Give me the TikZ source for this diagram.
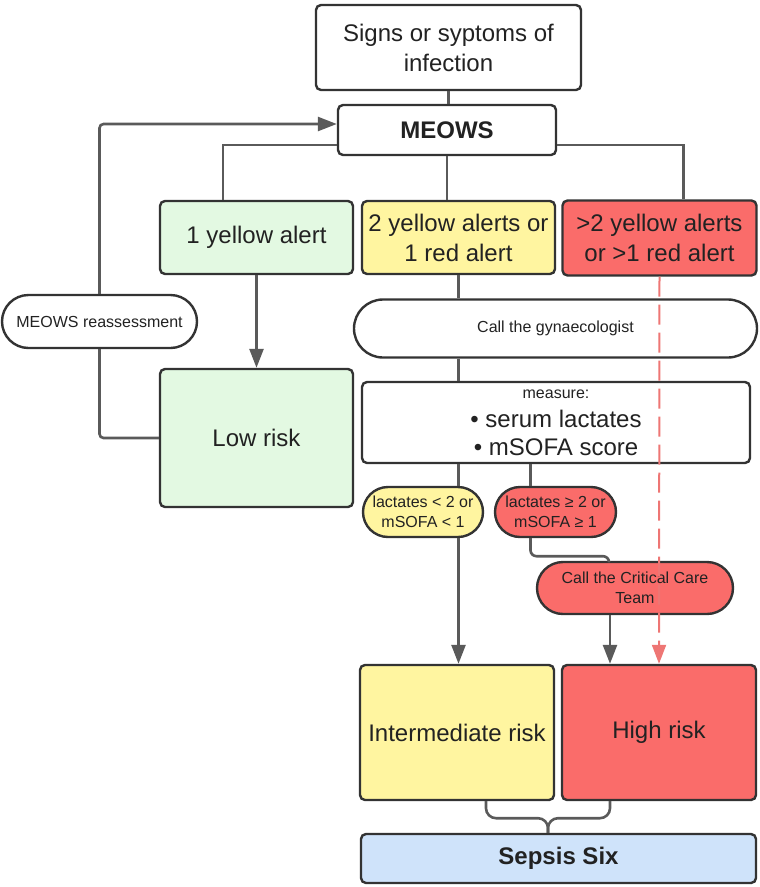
\documentclass[tikz,border=0pt]{standalone}
\usepackage{fontspec}
\setmainfont{Liberation Sans}
\usepackage{tikz}
\usetikzlibrary{shapes.misc, arrows.meta, positioning, calc}
\definecolor{lowgreen}{RGB}{227, 249, 226}
\definecolor{midyellow}{RGB}{255, 245, 160}
\definecolor{highred}{RGB}{250, 108, 106}
\definecolor{sepsisblue}{RGB}{207, 227, 250}
\definecolor{boxgray}{RGB}{51, 51, 51}
\definecolor{linegray}{RGB}{90, 90, 90}
\definecolor{txtgray}{RGB}{34, 34, 34}
\definecolor{dashred}{RGB}{238, 118, 116}

\begin{document}
\begin{tikzpicture}[
				x=1pt, y=-1pt,
				stepbox/.style={rectangle, rounded corners=5pt, draw=boxgray, fill=white, line width=2.4pt, align=center, inner sep=0pt, text=txtgray, font=\fontsize{24}{30}\selectfont},
				pillbox/.style={rounded rectangle, draw=boxgray, fill=white, line width=2.4pt, align=center, inner sep=0pt, text=txtgray, font=\fontsize{16}{20}\selectfont},
				conn/.style={draw=linegray, line width=2.6pt},
				arr/.style={conn, -{Triangle[length=19pt, width=14pt]}}
				]
				\useasboundingbox (0, 0) rectangle (760, 887);
				% Entry and scoring
				\node[stepbox, minimum width=265pt, minimum height=85pt] (signs) at (448.5, 47.5) {Signs or syptoms of\\infection};
				\node[stepbox, minimum width=218pt, minimum height=50pt, font=\fontsize{24}{30}\selectfont\bfseries] (meows) at (447, 130) {MEOWS};
				
				% Alert levels
				\node[stepbox, fill=lowgreen, minimum width=193pt, minimum height=73pt] (alert1) at (256.5, 237.5) {1 yellow alert};
				\node[stepbox, fill=midyellow, minimum width=193pt, minimum height=73pt] (alert2) at (458.5, 237.5) {2 yellow alerts or\\1 red alert};
				\node[stepbox, fill=highred, minimum width=194pt, minimum height=75pt] (alert3) at (659.5, 238) {>2 yellow alerts\\or >1 red alert};
				
				% Actions
				\node[pillbox, minimum width=195pt, minimum height=53pt] (reassess) at (99.5, 321.5) {MEOWS reassessment};
				\node[pillbox, minimum width=403pt, minimum height=58pt] (gyn) at (555.5, 328.5) {Call the gynaecologist};
				\node[stepbox, fill=lowgreen, minimum width=193pt, minimum height=138pt] (lowrisk) at (256.5, 438) {Low risk};
				\node[stepbox, minimum width=388pt, minimum height=81pt, font=\fontsize{24}{28}\selectfont] (measure) at (556, 422.5) {{\fontsize{16}{18}\selectfont measure:}\\[1pt] • serum lactates\\ • mSOFA score};
				\node[pillbox, fill=midyellow, minimum width=120pt, minimum height=50pt] (lowpill) at (423, 512) {lactates < 2 or\\mSOFA < 1};
				\node[pillbox, fill=highred, minimum width=121pt, minimum height=50pt] (highpill) at (555.5, 512) {lactates ≥ 2 or\\mSOFA ≥ 1};
				\node[pillbox, fill=highred, minimum width=196pt, minimum height=52pt] (cct) at (635, 588) {Call the Critical Care\\Team};
				
				% Risk groups
				\node[stepbox, fill=midyellow, minimum width=194pt, minimum height=135pt] (interm) at (457, 732.5) {Intermediate risk};
				\node[stepbox, fill=highred, minimum width=194pt, minimum height=135pt] (high) at (659, 732.5) {High risk};
				\node[stepbox, fill=sepsisblue, minimum width=395pt, minimum height=49pt, font=\fontsize{24}{30}\selectfont\bfseries] (sepsis) at (558.5, 858.5) {Sepsis Six};
				
				% Connectors
				\coordinate (hpin) at ([xshift=-25pt]highpill.north);
				\coordinate (hpout) at ([xshift=-25pt]highpill.south);
				\coordinate (cctin) at ([xshift=-26pt]cct.north);
				\coordinate (cctout) at ([xshift=-25pt]cct.south);
				\draw[conn] (signs.south) -- (signs.south |- meows.north);
				\draw[conn] ([yshift=-15pt]meows.west) -| ([xshift=-33.5pt]alert1.north);
				\draw[conn] (meows.south) -- (meows.south |- alert2.north);
				\draw[conn] ([yshift=-15pt]meows.east) -| ([xshift=24pt]alert3.north);
				\draw[arr] (alert1.south) -- (lowrisk.north);
				\draw[conn, rounded corners=4pt] (lowrisk.west) -| (reassess.south);
				\draw[arr, rounded corners=4pt] (reassess.north) |- ([yshift=6pt]meows.west);
				\draw[conn] (alert2.south) -- (alert2.south |- gyn.north);
				\draw[conn] (alert2.south |- gyn.south) -- (alert2.south |- measure.north);
				\draw[conn] (measure.south -| alert2.south) -- (lowpill.north -| alert2.south);
				\draw[arr] (lowpill.south -| alert2.south) -- (interm.north -| alert2.south);
				\draw[conn] (measure.south -| hpin) -- (hpin);
				\draw[conn, rounded corners=6pt] (hpout) -- ++(0, 18) -| (cctin);
				\draw[arr] (cctout) -- (high.north -| cctout);
				\draw[draw=dashred, line width=2pt, dash pattern=on 20pt off 8pt, -{Triangle[length=19pt, width=14pt]}] (alert3.south) -- (high.north);
				
				% Brace into Sepsis Six
				\coordinate (bl) at ([xshift=29pt]interm.south);
				\coordinate (br) at ([xshift=-49pt]high.south);
				\coordinate (bm) at ($(bl)!0.5!(br)$);
				\draw[conn, rounded corners=10pt] (bl) -- ++(0, 17) -| (sepsis.north -| bm);
				\draw[conn, rounded corners=10pt] (br) -- ++(0, 17) -| (sepsis.north -| bm);
			\end{tikzpicture}
\end{document}
